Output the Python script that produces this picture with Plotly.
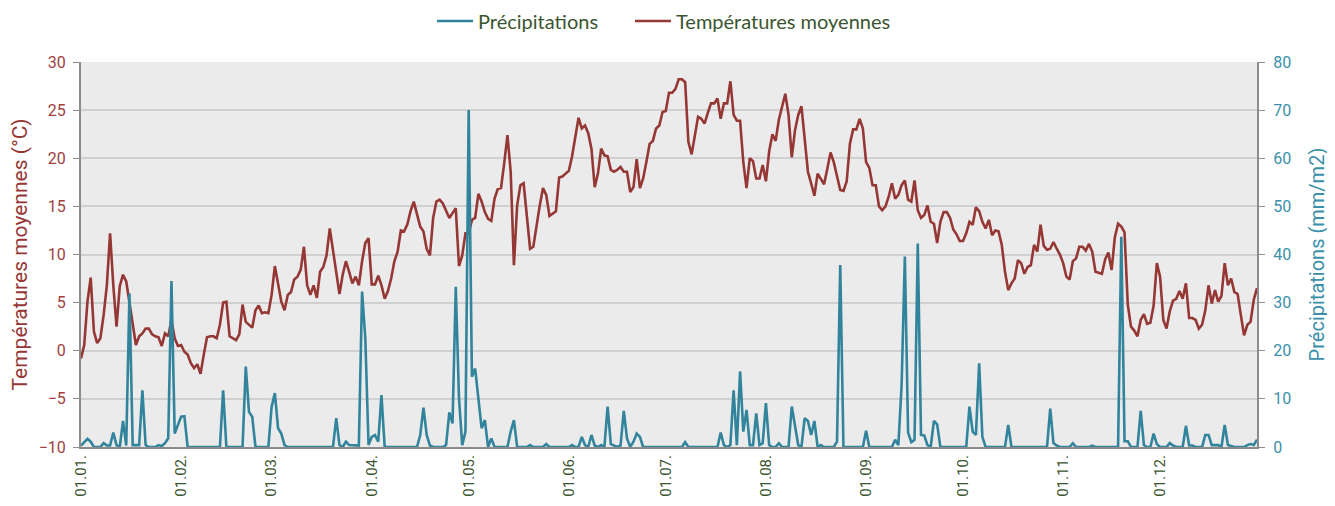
import plotly.graph_objects as go

month_ticks = [0, 31, 59, 90, 120, 151, 181, 212, 243, 273, 304, 334]
month_labels = ["01.01.", "01.02.", "01.03.", "01.04.", "01.05.", "01.06.",
                "01.07.", "01.08.", "01.09.", "01.10.", "01.11.", "01.12."]

temperature = [
    -0.8, 0.6, 5.1, 7.6, 2.0, 0.8, 1.3, 3.7, 6.8, 12.2,
    6.8, 2.5, 6.7, 7.9, 7.2, 5.1, 2.7, 0.6, 1.5, 1.8,
    2.3, 2.3, 1.7, 1.5, 1.4, 0.5, 1.8, 1.5, 3.2, 1.3,
    0.5, 0.6, -0.1, -0.4, -1.3, -1.8, -1.4, -2.4, -0.4, 1.4,
    1.5, 1.5, 1.3, 2.7, 5.0, 5.1, 1.5, 1.3, 1.1, 1.7,
    4.8, 3.0, 2.7, 2.4, 4.2, 4.7, 3.9, 4.0, 3.9, 5.8,
    8.8, 7.1, 5.1, 4.2, 5.8, 6.1, 7.4, 7.7, 8.4, 10.8,
    6.8, 5.8, 6.8, 5.5, 8.2, 8.7, 9.9, 12.7, 10.3, 8.2,
    5.9, 7.9, 9.3, 8.2, 7.0, 7.7, 6.8, 9.3, 11.2, 11.7,
    6.9, 6.9, 7.8, 6.8, 5.4, 6.2, 7.5, 9.3, 10.3, 12.5,
    12.4, 13.1, 14.5, 15.5, 14.3, 12.9, 12.4, 10.6, 9.9, 13.8,
    15.5, 15.7, 15.3, 14.6, 13.8, 14.3, 14.8, 8.8, 9.9, 12.2,
    12.2, 13.6, 13.8, 16.3, 15.5, 14.4, 13.7, 13.5, 15.8, 16.8,
    16.9, 19.5, 22.4, 18.6, 8.9, 15.1, 17.2, 17.4, 14.1, 10.6,
    10.8, 13.1, 15.1, 16.9, 16.2, 14.0, 14.3, 14.5, 18.0, 18.1,
    18.4, 18.7, 20.2, 22.2, 24.2, 23.1, 23.4, 22.6, 21.0, 17.0,
    18.4, 21.0, 20.3, 20.2, 18.8, 18.6, 18.8, 19.1, 18.6, 18.6,
    16.5, 17.0, 19.9, 16.9, 17.9, 19.6, 21.5, 21.8, 23.1, 23.4,
    24.8, 24.9, 26.8, 26.8, 27.2, 28.2, 28.2, 27.9, 21.7, 20.4,
    22.4, 24.3, 24.1, 23.6, 24.7, 25.7, 25.7, 26.2, 24.1, 25.7,
    25.7, 28.0, 24.5, 23.9, 23.9, 19.6, 16.9, 20.0, 19.7, 17.9,
    17.9, 19.3, 17.6, 20.7, 22.5, 21.8, 24.0, 25.5, 26.7, 24.5,
    20.1, 22.9, 24.5, 25.4, 22.1, 18.6, 17.4, 16.1, 18.4, 17.8,
    17.3, 18.9, 20.6, 19.6, 18.1, 16.7, 16.6, 17.6, 21.5, 23.0,
    23.0, 24.1, 23.1, 19.6, 19.0, 17.2, 17.2, 15.0, 14.6, 15.0,
    16.0, 17.4, 15.8, 16.2, 17.2, 17.7, 15.7, 15.5, 17.7, 14.6,
    13.8, 14.1, 15.1, 13.4, 13.2, 11.2, 13.4, 14.4, 14.4, 13.8,
    12.6, 12.1, 11.4, 11.4, 12.2, 13.4, 13.1, 14.9, 14.5, 13.4,
    12.7, 13.6, 12.0, 12.5, 12.4, 11.0, 8.2, 6.3, 7.0, 7.5,
    9.4, 9.1, 8.0, 8.7, 8.9, 11.0, 10.3, 13.1, 10.9, 10.5,
    10.6, 11.3, 10.6, 10.0, 9.1, 7.7, 7.4, 9.3, 9.6, 10.8,
    10.8, 10.4, 11.1, 10.3, 8.2, 8.1, 8.0, 9.5, 10.2, 8.4,
    11.8, 13.2, 12.9, 12.3, 4.8, 2.5, 2.1, 1.5, 3.2, 3.8,
    2.8, 2.9, 4.7, 9.1, 7.7, 3.2, 2.3, 4.1, 5.2, 5.4,
    6.2, 5.4, 7.0, 3.4, 3.4, 3.2, 2.3, 2.7, 4.2, 6.8,
    4.9, 6.3, 5.1, 5.7, 9.1, 6.8, 7.5, 6.1, 5.9, 3.7,
    1.6, 2.7, 3.0, 5.3, 6.5,
]

precipitation = [
    0.3, 1.0, 1.7, 1.1, 0.0, 0.0, 0.0, 0.8, 0.3, 0.3,
    3.0, 0.4, 0.0, 5.4, 0.3, 31.9, 0.4, 0.4, 0.4, 11.8,
    0.4, 0.0, 0.0, 0.0, 0.4, 0.2, 0.8, 1.8, 34.5, 2.8,
    4.6, 6.3, 6.4, 0.0, 0.0, 0.0, 0.0, 0.0, 0.0, 0.0,
    0.0, 0.0, 0.0, 0.0, 11.8, 0.0, 0.0, 0.0, 0.0, 0.0,
    0.0, 16.7, 7.3, 6.3, 0.0, 0.0, 0.0, 0.0, 0.0, 8.4,
    11.2, 3.9, 2.8, 0.4, 0.0, 0.0, 0.0, 0.0, 0.0, 0.0,
    0.0, 0.0, 0.0, 0.0, 0.0, 0.0, 0.0, 0.0, 0.0, 6.0,
    0.4, 0.0, 1.1, 0.4, 0.4, 0.3, 0.3, 32.3, 22.6, 0.4,
    2.1, 2.5, 1.1, 10.8, 0.0, 0.0, 0.0, 0.0, 0.0, 0.0,
    0.0, 0.0, 0.0, 0.0, 0.0, 2.5, 8.2, 2.5, 0.3, 0.0,
    0.0, 0.0, 0.0, 0.4, 7.2, 4.9, 33.3, 10.1, 0.4, 3.2,
    70.0, 14.6, 16.3, 10.1, 3.9, 5.6, 0.0, 1.8, 0.0, 0.0,
    0.0, 0.0, 0.0, 3.2, 5.6, 0.0, 0.0, 0.0, 0.0, 0.4,
    0.0, 0.0, 0.0, 0.0, 0.6, 0.0, 0.0, 0.0, 0.0, 0.0,
    0.0, 0.0, 0.4, 0.0, 0.0, 2.1, 0.4, 0.0, 2.5, 0.3,
    0.0, 0.4, 0.0, 8.4, 0.6, 0.3, 0.0, 0.3, 7.5, 1.8,
    0.0, 1.1, 2.8, 2.1, 0.0, 0.0, 0.0, 0.0, 0.0, 0.0,
    0.0, 0.0, 0.0, 0.0, 0.0, 0.0, 0.0, 1.0, 0.0, 0.0,
    0.0, 0.0, 0.0, 0.0, 0.0, 0.0, 0.0, 0.0, 3.0, 0.4,
    0.0, 0.4, 11.8, 0.4, 15.7, 3.2, 7.7, 0.4, 0.4, 7.0,
    0.4, 0.8, 9.1, 0.4, 0.0, 0.0, 0.8, 0.0, 0.0, 0.0,
    8.4, 4.6, 0.4, 0.0, 6.0, 5.4, 2.5, 5.4, 0.0, 0.4,
    0.0, 0.0, 0.0, 0.0, 1.1, 37.8, 0.0, 0.0, 0.0, 0.0,
    0.0, 0.0, 0.0, 3.4, 0.0, 0.0, 0.0, 0.0, 0.0, 0.0,
    0.0, 0.0, 1.5, 0.4, 12.9, 39.6, 3.0, 1.0, 1.5, 42.3,
    2.5, 2.4, 0.4, 0.0, 5.4, 4.7, 0.0, 0.0, 0.0, 0.0,
    0.0, 0.0, 0.0, 0.0, 0.0, 8.4, 3.2, 2.5, 17.4, 2.1,
    0.0, 0.0, 0.0, 0.0, 0.0, 0.0, 0.0, 4.6, 0.0, 0.0,
    0.0, 0.0, 0.0, 0.0, 0.0, 0.0, 0.0, 0.0, 0.0, 0.0,
    8.0, 0.8, 0.3, 0.0, 0.0, 0.0, 0.0, 0.8, 0.0, 0.0,
    0.0, 0.0, 0.0, 0.3, 0.0, 0.0, 0.0, 0.0, 0.0, 0.0,
    0.0, 0.0, 43.7, 1.2, 1.2, 0.0, 0.0, 0.0, 7.5, 0.4,
    0.0, 0.0, 2.8, 0.6, 0.0, 0.0, 0.0, 0.8, 0.3, 0.0,
    0.0, 0.0, 4.4, 0.3, 0.3, 0.0, 0.0, 0.0, 2.5, 2.5,
    0.4, 0.4, 0.4, 0.0, 4.6, 0.4, 0.2, 0.0, 0.0, 0.0,
    0.0, 0.4, 0.6, 0.4, 1.5,
]

days = list(range(len(temperature)))

TEMP_COLOR = "#953735"
PRECIP_COLOR = "#31849b"
GREEN_TEXT = "#3b5530"
FONT = "Roboto"

FIG_W, FIG_H = 1327, 498

fig = go.Figure()
fig.add_trace(go.Scatter(
    x=days, y=precipitation, name="Précipitations", mode="lines",
    line=dict(color=PRECIP_COLOR, width=2.6), yaxis="y2", legend="legend",
))
fig.add_trace(go.Scatter(
    x=days, y=temperature, name="Températures moyennes", mode="lines",
    line=dict(color=TEMP_COLOR, width=2.6), yaxis="y", legend="legend2",
))

legend_common = dict(
    orientation="h", xanchor="left",
    xref="container", yref="container", y=1 - 13 / FIG_H, yanchor="middle",
    font=dict(family="Lato", size=20, color=GREEN_TEXT),
    itemwidth=36, bgcolor="rgba(0,0,0,0)",
)

fig.update_layout(
    width=FIG_W, height=FIG_H,
    margin=dict(l=73, r=78, t=54, b=59, autoexpand=False),
    paper_bgcolor="white",
    plot_bgcolor="#ebebeb",
    font=dict(family=FONT, size=16),
    showlegend=True,
    legend=dict(x=0.3195, **legend_common),
    legend2=dict(x=0.4687, **legend_common),
    xaxis=dict(
        range=[0, 364], automargin=False,
        tickmode="array", tickvals=month_ticks, ticktext=month_labels,
        tickangle=-90, tickfont=dict(family=FONT, size=15, color=GREEN_TEXT),
        showgrid=False, zeroline=False,
        showline=True, linecolor="#8c8c8c", linewidth=2,
        ticks="",
    ),
    yaxis=dict(
        range=[-10, 30], dtick=5, tick0=-10, automargin=False,
        title=dict(text="Températures moyennes (°C)", standoff=10,
                   font=dict(family=FONT, size=21, color=TEMP_COLOR)),
        tickfont=dict(family=FONT, size=16, color="#a0413f"),
        ticklabelstandoff=4,
        showgrid=True, gridcolor="#d0d0d0", gridwidth=1.5,
        zeroline=False,
        showline=True, linecolor="#8c8c8c", linewidth=2,
        ticks="outside", ticklen=6, tickcolor="#8c8c8c", tickwidth=1,
    ),
    yaxis2=dict(
        range=[0, 80], dtick=10, automargin=False,
        overlaying="y", side="right",
        title=dict(text="Précipitations (mm/m2)", standoff=20,
                   font=dict(family=FONT, size=20, color="#3a90aa")),
        tickfont=dict(family=FONT, size=16, color="#3a90aa"),
        ticklabelstandoff=5,
        showgrid=False, zeroline=False,
        showline=True, linecolor="#8c8c8c", linewidth=2,
        ticks="outside", ticklen=6, tickcolor="#8c8c8c", tickwidth=1,
    ),
)

fig.write_html("out.html")
